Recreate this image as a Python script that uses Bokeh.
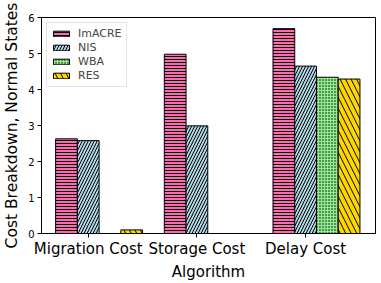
from bokeh.plotting import figure
from bokeh.models import FixedTicker, Range1d, Legend, LegendItem
from bokeh.embed import file_html
from bokeh.resources import INLINE

categories = ["Migration Cost", "Storage Cost", "Delay Cost"]
series_names = ["ImACRE", "NIS", "WBA", "RES"]
imacre = [2.63, 4.98, 5.69]
nis = [2.58, 2.99, 4.65]
wba = [0.0, 0.0, 4.34]
res = [0.10, 0.0, 4.29]
y_ticks = [0, 1, 2, 3, 4, 5, 6]

values = [imacre, nis, wba, res]
colors = ["#ff69b4", "#add8e6", "#90ee90", "#ffd700"]
hatches = ["horizontal_line", "right_diagonal_line", "dot", "left_diagonal_line"]
scales = [3, 6, 3, 11]
offsets = [-0.2, 0.0, 0.2, 0.4]
bar_w = 0.2

FONT = "DejaVu Sans"

p = figure(width=381, height=283, output_backend="svg", toolbar_location=None,
           x_range=Range1d(-0.43, 2.643), y_range=Range1d(0, 6),
           min_border_left=41, min_border_right=6, min_border_top=17, min_border_bottom=48)

xs = list(range(len(categories)))
items = []
for name, vals, c, h, sc, off in zip(series_names, values, colors, hatches, scales, offsets):
    r = p.vbar(x=[x + off for x in xs], top=vals, width=bar_w, bottom=0,
               fill_color=c, line_color="black", line_width=1,
               hatch_pattern=h, hatch_color="black", hatch_scale=sc, hatch_weight=1)
    items.append(LegendItem(label=name, renderers=[r]))

legend = Legend(items=items, location="top_left")
legend.label_text_font = FONT
legend.label_text_font_size = "11px"
legend.glyph_width = 20
legend.glyph_height = 7
legend.label_height = 7
legend.spacing = 1
legend.padding = 4
legend.margin = 5
legend.label_standoff = 7
legend.border_line_color = "#cccccc"
legend.border_line_width = 1
legend.background_fill_alpha = 0.8
p.add_layout(legend)

p.xgrid.visible = False
p.ygrid.visible = False
p.outline_line_color = "black"
p.outline_line_width = 1

p.xaxis.ticker = FixedTicker(ticks=xs)
p.xaxis.major_label_overrides = {i: c for i, c in enumerate(categories)}
p.xaxis.axis_label = "Algorithm"
p.yaxis.ticker = FixedTicker(ticks=y_ticks)
p.yaxis.axis_label = "Cost Breakdown, Normal States"

for ax in (p.xaxis[0], p.yaxis[0]):
    ax.axis_line_color = "black"
    ax.major_tick_line_color = "black"
    ax.major_tick_out = 4
    ax.major_tick_in = 0
    ax.minor_tick_line_color = None
    ax.major_label_text_font = FONT
    ax.axis_label_text_font = FONT
    ax.axis_label_text_font_style = "normal"
    ax.axis_label_text_color = "black"
    ax.major_label_text_color = "black"

p.xaxis.major_label_text_font_size = "15px"
p.xaxis.axis_label_text_font_size = "15px"
p.xaxis.major_label_standoff = 2
p.xaxis.axis_label_standoff = 2
p.yaxis.major_label_text_font_size = "10px"
p.yaxis.axis_label_text_font_size = "15.5px"
p.yaxis.major_label_standoff = 3
p.yaxis.axis_label_standoff = 4

open("out.html", "w").write(file_html(p, INLINE))
